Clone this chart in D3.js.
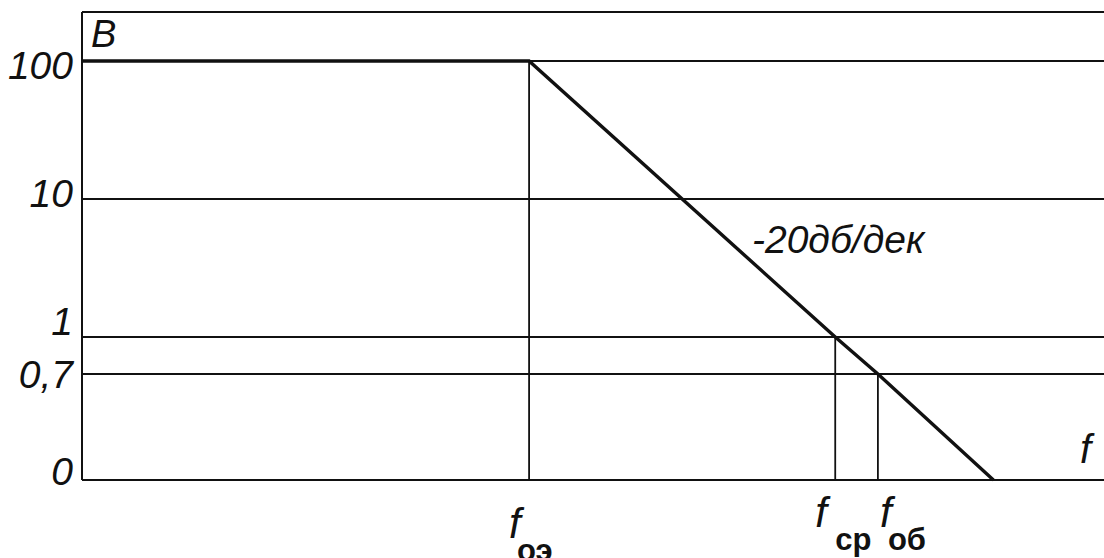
<html>
<head>
    <style>
        body { margin: 0; background: white; }
        svg text { font-family: "Liberation Sans", Arial, sans-serif; fill: #111; }
    </style>
    <script src="https://d3js.org/d3.v7.min.js"></script>
</head>
<body>
<svg id="chart"></svg>
<script>
    // values
    let gainTicks = [0, 0.7, 1, 10, 100]
    let gainLabels = ["0", "0,7", "1", "10", "100"]
    let freqMarks = [1, 100, 190]            // f_оэ, f_ср, f_об (relative)
    let freqNames = ["оэ", "ср", "об"]
    let freqMarkGain = [100, 1, 0.7]
    let respFreq = [0.0012, 1, 100, 190, 1080]
    let respGain = [100, 100, 1, 0.7, 0]

    let width = 1104, height = 558
    let margin = { top: 12, left: 82, bottom: 78, right: 0 }

    let svg = d3.select("#chart").attr("width", width).attr("height", height)

    let x = d3.scaleLog()
        .domain([0.0012, 5700])
        .range([margin.left, width - margin.right])

    // schematic axis: log between 1 and 100, squeezed below 1
    let y = d3.scaleLinear()
        .domain(gainTicks)
        .range([480, 374, 337, 199, 61])

    // gridlines
    svg.append("g").selectAll("line")
        .data(gainTicks)
        .join("line")
        .attr("x1", margin.left).attr("x2", width)
        .attr("y1", d => y(d)).attr("y2", d => y(d))
        .attr("stroke", "#111")
        .attr("stroke-width", d => d == 0 ? 2 : 1.8)

    // frame: top and left
    svg.append("line")
        .attr("x1", margin.left).attr("x2", width)
        .attr("y1", margin.top).attr("y2", margin.top)
        .attr("stroke", "#111").attr("stroke-width", 2)
    svg.append("line")
        .attr("x1", margin.left).attr("x2", margin.left)
        .attr("y1", margin.top).attr("y2", y(0))
        .attr("stroke", "#111").attr("stroke-width", 2)

    // drop lines
    svg.append("g").selectAll("line")
        .data(freqMarks)
        .join("line")
        .attr("x1", d => x(d)).attr("x2", d => x(d))
        .attr("y1", (d, i) => y(freqMarkGain[i])).attr("y2", y(0))
        .attr("stroke", "#111").attr("stroke-width", 1.8)

    // response
    let line = d3.line().x(d => x(d[0])).y(d => y(d[1]))
    svg.append("path")
        .datum(respFreq.map((f, i) => [f, respGain[i]]))
        .attr("d", line)
        .attr("fill", "none")
        .attr("stroke", "#111")
        .attr("stroke-width", 3.4)
        .attr("stroke-linejoin", "miter")

    // y labels (baselines sit a little differently for each, as in the drawing)
    let yShift = { "100": 18, "10": 8, "1": -2, "0,7": 14, "0": 5 }
    svg.append("g").selectAll("text")
        .data(gainTicks)
        .join("text")
        .attr("x", 73)
        .attr("y", (d, i) => y(d) + yShift[gainLabels[i]])
        .attr("text-anchor", "end")
        .attr("font-size", 39)
        .attr("font-style", "italic")
        .text((d, i) => gainLabels[i])

    svg.append("text")
        .attr("x", 91).attr("y", 47)
        .attr("font-size", 38).attr("font-style", "italic")
        .text("B")

    svg.append("text")
        .attr("x", 1080).attr("y", 463)
        .attr("font-size", 40).attr("font-style", "italic")
        .text("f")

    svg.append("text")
        .attr("x", 752).attr("y", 253)
        .attr("font-size", 39).attr("font-style", "italic")
        .text("-20дб/дек")

    // frequency labels
    let fLab = svg.append("g").selectAll("g")
        .data(freqMarks)
        .join("g")
        .attr("transform", (d, i) => `translate(${x(d)},${i == 0 ? 538 : 527})`)
    fLab.append("text")
        .attr("x", (d, i) => i == 2 ? 2 : -20)
        .attr("font-size", 42).attr("font-style", "italic")
        .text("f")
    fLab.append("text")
        .attr("x", (d, i) => i == 2 ? 10 : (i == 1 ? 0 : -12))
        .attr("y", 23)
        .attr("font-size", 31).attr("font-weight", "bold")
        .text((d, i) => freqNames[i])
</script>
</body>
</html>
